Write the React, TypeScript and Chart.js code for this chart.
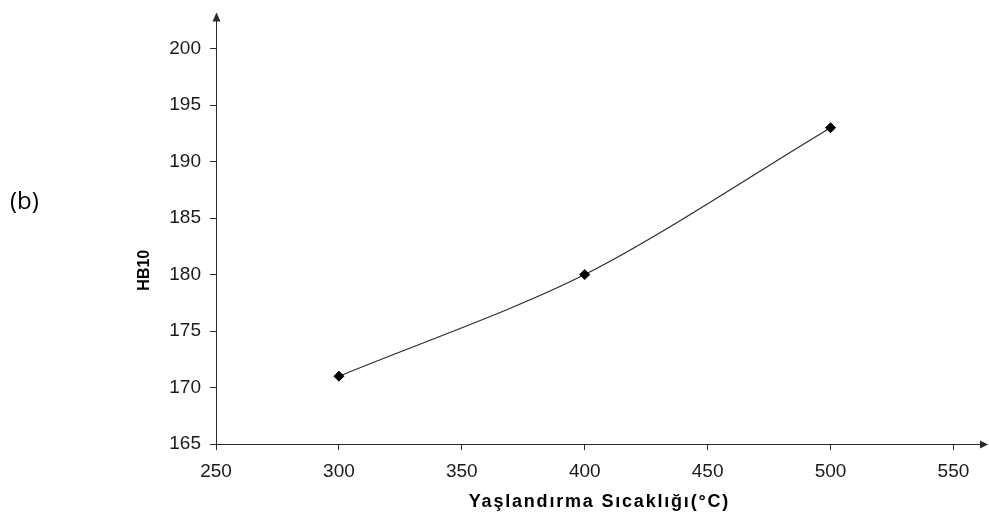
import React, { useEffect, useRef } from 'react';
import { Chart, registerables } from 'chart.js';

Chart.register(...registerables);

// Aging temperature (°C) vs Brinell hardness
const temperatures = [300, 400, 500];
const hardness = [171, 180, 193];

// Axis tick values
const xTickValues = [250, 300, 350, 400, 450, 500, 550];
const yTickValues = [165, 170, 175, 180, 185, 190, 195, 200];

const xAxisTitle = 'Yaşlandırma Sıcaklığı(°C)';
const yAxisTitle = 'HB10';
const panelLabel = '(b)';

const X_MIN = 250;
const X_MAX = 561.2;
const Y_MIN = 165;
const Y_MAX = 202.5;

const AXIS_COLOR = '#2a2a2a';
const FONT = "'Liberation Sans', Arial, sans-serif";

// Arrowheads at the open ends of both axes
const axisArrows = {
  id: 'axisArrows',
  afterDraw(chart: any) {
    const { ctx, chartArea } = chart;
    const { left, right, top, bottom } = chartArea;
    const ax = Math.round(left) + 0.5;
    const ay = Math.round(bottom) + 0.5;
    ctx.save();
    ctx.fillStyle = AXIS_COLOR;
    ctx.beginPath();
    ctx.moveTo(ax, top - 8);
    ctx.lineTo(ax - 4, top + 1);
    ctx.lineTo(ax + 4, top + 1);
    ctx.closePath();
    ctx.fill();
    ctx.beginPath();
    ctx.moveTo(right + 7, ay);
    ctx.lineTo(right - 1, ay - 4);
    ctx.lineTo(right - 1, ay + 4);
    ctx.closePath();
    ctx.fill();
    ctx.restore();
  },
};

// Axis titles: letter-spaced x title, y title nudged down along the axis
const titleTweaks = {
  id: 'titleTweaks',
  afterLayout(chart: any) {
    const sx = chart.scales.x;
    if (sx && !sx.__tweaked) {
      const orig = sx.drawTitle.bind(sx);
      sx.drawTitle = (...args: any[]) => {
        const ctx = chart.ctx;
        ctx.save();
        ctx.letterSpacing = '1.8px';
        ctx.translate(0.9, 0);
        orig(...args);
        ctx.restore();
      };
      sx.__tweaked = true;
    }
    const sy = chart.scales.y;
    if (sy && !sy.__tweaked) {
      const orig = sy.drawTitle.bind(sy);
      sy.drawTitle = (...args: any[]) => {
        const ctx = chart.ctx;
        ctx.save();
        ctx.translate(0, 38);
        orig(...args);
        ctx.restore();
      };
      sy.__tweaked = true;
    }
  },
};

export default function App() {
  const canvasRef = useRef<HTMLCanvasElement | null>(null);

  useEffect(() => {
    document.body.style.margin = '0';
    const canvas = canvasRef.current;
    if (!canvas) return;

    const chart = new Chart(canvas, {
      type: 'scatter',
      data: {
        datasets: [
          {
            label: yAxisTitle,
            data: temperatures.map((t, i) => ({ x: t, y: hardness[i] })),
            showLine: true,
            tension: 0.3,
            borderColor: '#2b2b2b',
            borderWidth: 1.2,
            pointStyle: 'rectRot',
            pointRadius: 5,
            pointBackgroundColor: '#000',
            pointBorderColor: '#000',
            pointBorderWidth: 1,
          },
        ],
      },
      options: {
        responsive: false,
        animation: false,
        devicePixelRatio: 1,
        layout: { padding: { top: 15, right: 8, bottom: 0, left: 0 } },
        plugins: {
          legend: { display: false },
          tooltip: { enabled: false },
        },
        scales: {
          x: {
            type: 'linear',
            min: X_MIN,
            max: X_MAX,
            afterBuildTicks: (scale: any) => {
              scale.ticks = xTickValues.map((v) => ({ value: v }));
            },
            afterFit: (scale: any) => {
              scale.height = 84;
            },
            grid: {
              display: true,
              drawOnChartArea: false,
              drawTicks: true,
              tickLength: 6,
              color: AXIS_COLOR,
              lineWidth: 1,
            },
            border: { display: true, color: AXIS_COLOR, width: 1 },
            ticks: {
              color: '#1a1a1a',
              font: { family: FONT, size: 19 },
              padding: 10,
              maxRotation: 0,
              autoSkip: false,
            },
            title: {
              display: true,
              text: xAxisTitle,
              color: '#000',
              font: { family: FONT, size: 18, weight: 'bold' },
              padding: { top: 0, bottom: 15.5 },
            },
          },
          y: {
            type: 'linear',
            min: Y_MIN,
            max: Y_MAX,
            afterBuildTicks: (scale: any) => {
              scale.ticks = yTickValues.map((v) => ({ value: v }));
            },
            afterFit: (scale: any) => {
              scale.width = 216;
            },
            grid: {
              display: true,
              drawOnChartArea: false,
              drawTicks: true,
              tickLength: 6,
              color: AXIS_COLOR,
              lineWidth: 1,
            },
            border: { display: true, color: AXIS_COLOR, width: 1 },
            ticks: {
              color: '#1a1a1a',
              font: { family: FONT, size: 19 },
              padding: 9,
              autoSkip: false,
            },
            title: {
              display: true,
              text: yAxisTitle,
              color: '#000',
              font: { family: FONT, size: 16, weight: 'bold' },
              padding: { top: 135, bottom: 0 },
            },
          },
        },
      },
      plugins: [axisArrows, titleTweaks],
    });

    return () => {
      chart.destroy();
    };
  }, []);

  return (
    <div style={{ position: 'relative', width: 989, height: 528, background: '#fff' }}>
      <canvas ref={canvasRef} width={989} height={528} style={{ display: 'block' }} />
      <div
        style={{
          position: 'absolute',
          left: 10,
          top: 185,
          fontFamily: "'Open Sans', sans-serif",
          fontSize: 24,
          lineHeight: '30px',
          color: '#000',
        }}
      >
        {panelLabel}
      </div>
    </div>
  );
}
